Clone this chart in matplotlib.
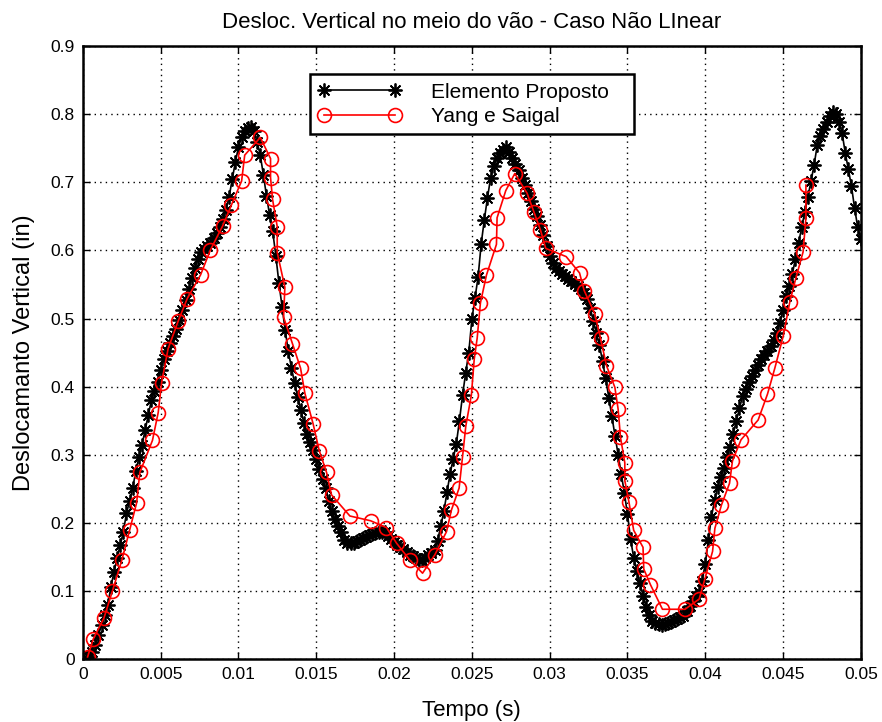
import numpy as np
import matplotlib
matplotlib.use('Agg')
import matplotlib.pyplot as plt

plt.rcParams['font.family'] = ['Liberation Sans', 'DejaVu Sans']

# Elemento Proposto: deslocamento amostrado a cada 0.0002 s (0 ... 0.05 s)
prop_v = [
    0.000, 0.001, 0.003, 0.010, 0.020, 0.035, 0.050, 0.064, 0.080, 0.106,
    0.128, 0.149, 0.167, 0.187, 0.214, 0.232, 0.251, 0.276, 0.296, 0.315,
    0.336, 0.358, 0.380, 0.394, 0.407, 0.425, 0.441, 0.453, 0.464, 0.474,
    0.484, 0.498, 0.512, 0.527, 0.543, 0.559, 0.574, 0.588, 0.598, 0.602,
    0.606, 0.611, 0.619, 0.626, 0.635, 0.646, 0.660, 0.679, 0.705, 0.730,
    0.752, 0.766, 0.776, 0.780, 0.781, 0.775, 0.759, 0.740, 0.711, 0.680,
    0.652, 0.628, 0.592, 0.552, 0.517, 0.483, 0.452, 0.428, 0.406, 0.385,
    0.366, 0.347, 0.330, 0.318, 0.307, 0.294, 0.279, 0.265, 0.251, 0.232,
    0.217, 0.205, 0.195, 0.186, 0.175, 0.171, 0.170, 0.171, 0.173, 0.175,
    0.177, 0.179, 0.182, 0.184, 0.185, 0.186, 0.187, 0.186, 0.181, 0.176,
    0.172, 0.168, 0.165, 0.161, 0.157, 0.153, 0.151, 0.148, 0.145, 0.146,
    0.149, 0.152, 0.155, 0.160, 0.174, 0.195, 0.217, 0.245, 0.272, 0.294,
    0.316, 0.350, 0.387, 0.420, 0.450, 0.499, 0.530, 0.561, 0.610, 0.645,
    0.677, 0.706, 0.724, 0.736, 0.743, 0.748, 0.752, 0.744, 0.736, 0.727,
    0.718, 0.707, 0.696, 0.684, 0.672, 0.661, 0.650, 0.638, 0.622, 0.607,
    0.592, 0.582, 0.574, 0.570, 0.566, 0.562, 0.558, 0.555, 0.551, 0.548,
    0.544, 0.538, 0.529, 0.516, 0.497, 0.479, 0.461, 0.437, 0.412, 0.384,
    0.357, 0.328, 0.299, 0.271, 0.244, 0.213, 0.176, 0.149, 0.129, 0.111,
    0.093, 0.077, 0.064, 0.056, 0.053, 0.051, 0.050, 0.051, 0.053, 0.055,
    0.057, 0.059, 0.061, 0.063, 0.070, 0.078, 0.085, 0.092, 0.099, 0.115,
    0.140, 0.175, 0.209, 0.233, 0.253, 0.267, 0.281, 0.296, 0.312, 0.331,
    0.350, 0.368, 0.386, 0.397, 0.407, 0.416, 0.425, 0.432, 0.440, 0.447,
    0.453, 0.459, 0.469, 0.479, 0.494, 0.513, 0.533, 0.548, 0.566, 0.588,
    0.611, 0.634, 0.657, 0.679, 0.702, 0.726, 0.755, 0.768, 0.778, 0.788,
    0.797, 0.804, 0.800, 0.789, 0.772, 0.743, 0.719, 0.694, 0.662, 0.634,
    0.617,
]
prop_t = np.linspace(0, 0.05, len(prop_v))

# Yang e Saigal
yang_t = [
    0.0003, 0.00066, 0.00135, 0.0019, 0.0025, 0.0030, 0.00345, 0.00366,
    0.00447, 0.00484, 0.00506, 0.00548, 0.00612, 0.0067, 0.00756, 0.0082,
    0.00898, 0.00955, 0.0102, 0.0104, 0.0114, 0.01206, 0.01206, 0.01219,
    0.01249, 0.01249, 0.01298, 0.0129, 0.01347, 0.01399, 0.01427, 0.0148,
    0.01519, 0.01566, 0.01598, 0.01716, 0.01849, 0.01951, 0.02016, 0.02102,
    0.02183, 0.02262, 0.02337, 0.02369, 0.02418, 0.0244, 0.02461, 0.02497,
    0.02515, 0.02534, 0.02555, 0.02594, 0.02658, 0.02662, 0.02718, 0.02776,
    0.02855, 0.02898, 0.02941, 0.02975, 0.03106, 0.03192, 0.03222, 0.0329,
    0.03327, 0.03365, 0.03419, 0.0344, 0.03455, 0.03483, 0.03483, 0.0351,
    0.0354, 0.0360, 0.03605, 0.03648, 0.03725, 0.0387, 0.03961, 0.03997,
    0.04047, 0.04062, 0.04104, 0.04156, 0.04175, 0.0423, 0.0434, 0.0440,
    0.04447, 0.04501, 0.04544, 0.04582, 0.04629, 0.04647, 0.04647,
]
yang_v = [
    0.003, 0.029, 0.060, 0.100, 0.145, 0.189, 0.229, 0.274,
    0.321, 0.362, 0.406, 0.456, 0.496, 0.529, 0.564, 0.601,
    0.636, 0.667, 0.702, 0.740, 0.766, 0.735, 0.707, 0.675,
    0.635, 0.597, 0.546, 0.502, 0.463, 0.427, 0.390, 0.345,
    0.306, 0.274, 0.241, 0.210, 0.203, 0.193, 0.170, 0.145,
    0.126, 0.153, 0.187, 0.219, 0.251, 0.297, 0.342, 0.388,
    0.440, 0.471, 0.523, 0.564, 0.609, 0.648, 0.688, 0.713,
    0.684, 0.657, 0.630, 0.603, 0.591, 0.567, 0.541, 0.507,
    0.471, 0.431, 0.399, 0.367, 0.326, 0.288, 0.262, 0.230,
    0.189, 0.164, 0.132, 0.109, 0.073, 0.073, 0.088, 0.117,
    0.158, 0.192, 0.226, 0.258, 0.291, 0.322, 0.351, 0.389,
    0.427, 0.474, 0.525, 0.559, 0.598, 0.648, 0.696,
]

x_ticks = [0, 0.005, 0.01, 0.015, 0.02, 0.025, 0.03, 0.035, 0.04, 0.045, 0.05]
x_labels = ['0', '0.005', '0.01', '0.015', '0.02', '0.025', '0.03', '0.035', '0.04', '0.045', '0.05']
y_ticks = [0, 0.1, 0.2, 0.3, 0.4, 0.5, 0.6, 0.7, 0.8, 0.9]
y_labels = ['0', '0.1', '0.2', '0.3', '0.4', '0.5', '0.6', '0.7', '0.8', '0.9']

fig = plt.figure(figsize=(8.82, 7.22), dpi=100)
ax = fig.add_axes([0.094, 0.0873, 0.882, 0.8487])

# asterisco estilo MATLAB
ast = (8, 2, 0)
ax.plot(prop_t, prop_v, color='black', linewidth=1.2, marker=ast,
        markersize=10, markeredgewidth=1.3, label='Elemento Proposto')
ax.plot(yang_t, yang_v, color='red', linewidth=1.2, marker='o',
        markersize=10, markerfacecolor='none', markeredgewidth=1.2,
        label='Yang e Saigal')

ax.set_xlim(0, 0.05)
ax.set_ylim(0, 0.9)
ax.set_xticks(x_ticks)
ax.set_xticklabels(x_labels)
ax.set_yticks(y_ticks)
ax.set_yticklabels(y_labels)
ax.tick_params(direction='in', length=5, width=1, labelsize=12.5,
               top=True, right=True, pad=6)
ax.grid(True, color='black', linestyle=(0, (1, 3)), linewidth=1.0)
for s in ax.spines.values():
    s.set_linewidth(1.8)

ax.set_title('Desloc. Vertical no meio do vão - Caso Não LInear', fontsize=16, pad=13)
ax.set_xlabel('Tempo (s)', fontsize=16, labelpad=13)
ax.set_ylabel('Deslocamanto Vertical (in)', fontsize=17, labelpad=11)

leg = ax.legend(loc='upper left', bbox_to_anchor=(0.2918, 0.855, 0.4165, 0.099),
                mode='expand', borderaxespad=0, numpoints=2, fontsize=15,
                handlelength=4.0, handletextpad=1.4, borderpad=0.4,
                labelspacing=0.25, fancybox=False, framealpha=1)
leg.get_frame().set_edgecolor('black')
leg.get_frame().set_linewidth(1.8)

fig.savefig('out.png', dpi=100)
